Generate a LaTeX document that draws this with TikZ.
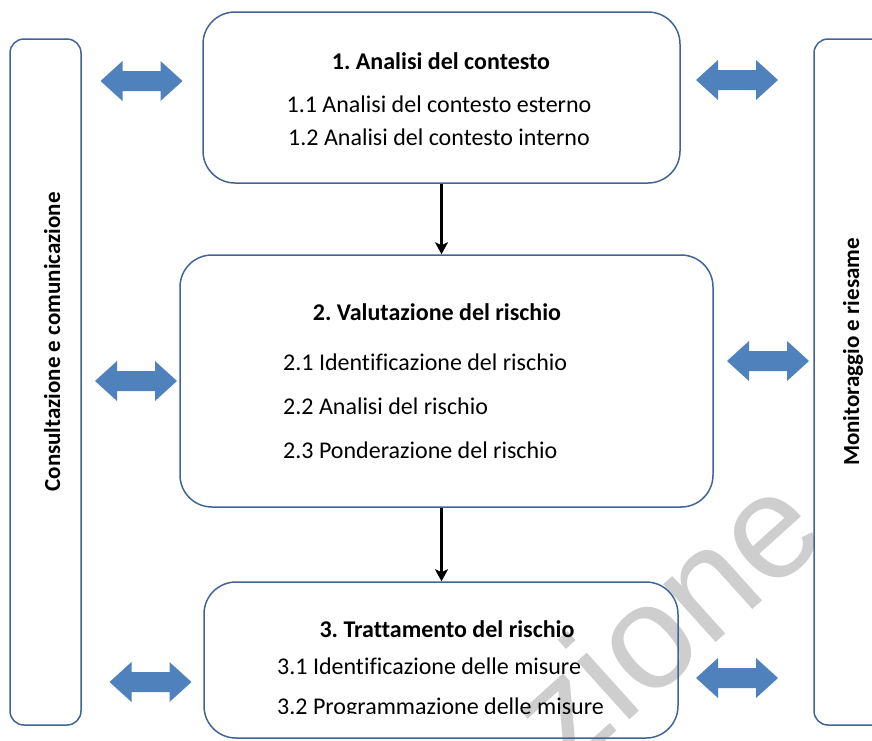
\documentclass[tikz,border=0pt]{standalone}
\usepackage{fontspec}
\setmainfont{Carlito}[Ligatures=CommonOff]
\newfontfamily\wmfont{Liberation Sans}
\usetikzlibrary{arrows.meta}
\definecolor{boxline}{RGB}{65,100,150}
\definecolor{arrowblue}{RGB}{79,129,189}
\definecolor{wmgray}{RGB}{206,206,206}
\newcommand{\dblarrow}[2]{%
  \fill[arrowblue] ({#1-41},#2) -- ++(22,-20) -- ++(0,10) -- ++(38,0) -- ++(0,-10)
    -- ++(22,20) -- ++(-22,20) -- ++(0,-10) -- ++(-38,0) -- ++(0,10) -- cycle;}
\frenchspacing
\begin{document}
\begin{tikzpicture}[x=1pt,y=-1pt,
  mainbox/.style={draw=boxline, line width=1.5pt, rounded corners=32pt, inner sep=0pt},
  sidebox/.style={draw=boxline, line width=1.5pt, rounded corners=14pt, inner sep=0pt},
  titletext/.style={anchor=base, inner sep=0pt, font=\bfseries\fontsize{24}{28}\selectfont},
  ctext/.style={anchor=base, inner sep=0pt, font=\fontsize{24}{28}\selectfont},
  ltext/.style={anchor=base west, inner sep=0pt, font=\fontsize{24}{28}\selectfont},
  vtext/.style={anchor=base, rotate=90, inner sep=0pt, font=\bfseries\fontsize{23}{27}\selectfont},
  conn/.style={line width=2.5pt, -{Stealth[length=12pt,width=13pt,inset=3pt]}},
  wm/.style={inner sep=0pt, text=wmgray, font=\wmfont\fontsize{148}{148}\selectfont}]
\useasboundingbox (0,0) rectangle (872,740);
\clip (0,0) rectangle (872,740);
% watermark
\node[wm, rotate=42] (wm) at (664,618) {zione};
% side boxes
\node[sidebox, minimum width=71pt, minimum height=686pt] (left) at (45.5,382) {};
\node[sidebox, minimum width=76pt, minimum height=686pt] (right) at (852,382) {};
\node[vtext] (lt) at (60,342) {Consultazione e comunicazione};
\node[vtext] (rt) at (859,352) {Monitoraggio e riesame};
% main boxes
\node[mainbox, minimum width=477pt, minimum height=171pt] (b1) at (441.5,97.5) {};
\node[mainbox, minimum width=533pt, minimum height=252pt] (b2) at (446.5,381) {};
\node[mainbox, minimum width=474pt, minimum height=156pt] (b3) at (441,660) {};
% box texts
\node[titletext] (t1) at (441,69) {1. Analisi del contesto};
\node[ctext] (t11) at (439,112) {1.1 Analisi del contesto esterno};
\node[ctext] (t12) at (439,145) {1.2 Analisi del contesto interno};
\node[titletext] (t2) at (437,320) {2. Valutazione del rischio};
\node[ltext] (t21) at (283,370) {2.1 Identificazione del rischio};
\node[ltext] (t22) at (283,414) {2.2 Analisi del rischio};
\node[ltext] (t23) at (283,458) {2.3 Ponderazione del rischio};
\node[titletext] (t3) at (447,637) {3. Trattamento del rischio};
\node[ltext] (t31) at (277,674) {3.1 Identificazione delle misure};
\begin{scope}
  \clip (0,0) rectangle (872,713);
  \node[ltext] (t32) at (277,714) {3.2 Programmazione delle misure};
\end{scope}
% flow arrows
\draw[conn] (b1.south) -- (b1.south |- b2.north);
\draw[conn] (b2.south -| b1.south) -- (b3.north -| b1.south);
% blue double arrows
\dblarrow{141.5}{81}
\dblarrow{737}{80}
\dblarrow{136}{381}
\dblarrow{768}{361}
\dblarrow{150.5}{682}
\dblarrow{737}{678}
\end{tikzpicture}
\end{document}
